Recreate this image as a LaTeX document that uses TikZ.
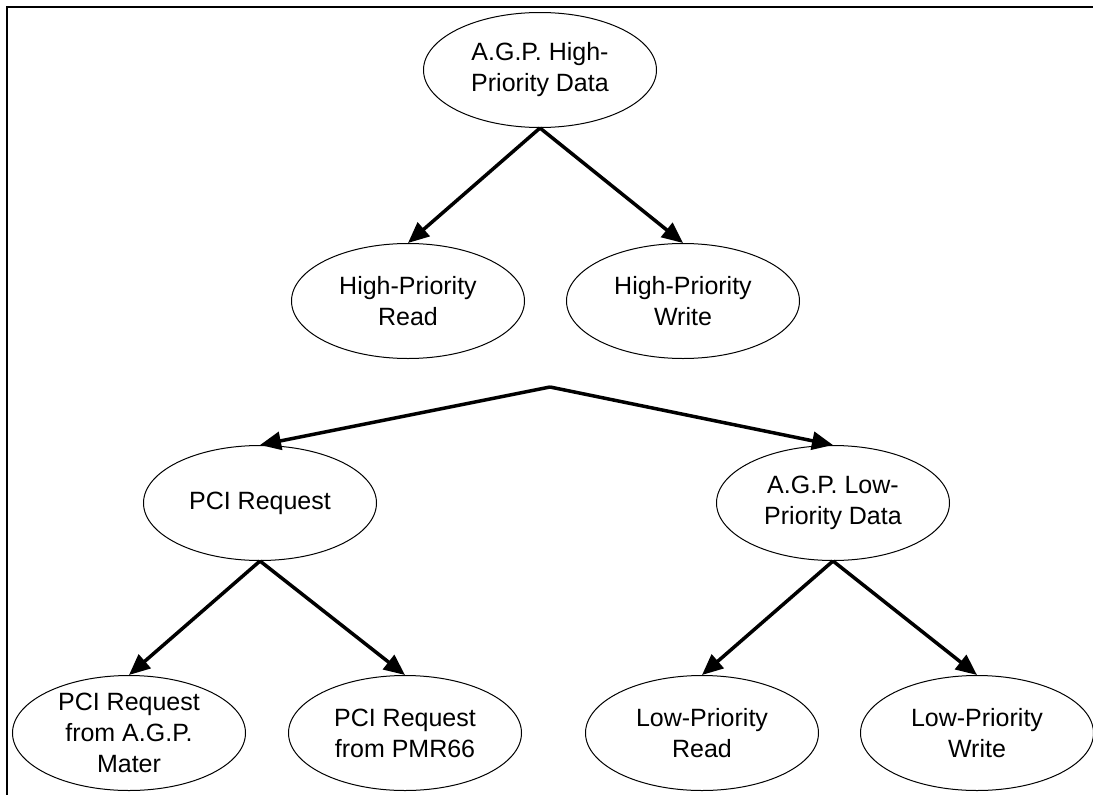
\documentclass[tikz,border=0pt]{standalone}
\usepackage{fontspec}
\setmainfont{Liberation Sans}
\usetikzlibrary{shapes.geometric,arrows.meta}
\begin{document}
\begin{tikzpicture}[x=1pt,y=-1pt,
  oval/.style={ellipse,draw,line width=1pt,minimum width=233pt,minimum height=115pt,inner sep=0pt,align=center,font=\fontsize{25}{31}\selectfont},
  link/.style={line width=3.5pt,-{Triangle[length=21pt,width=18pt]}}]
\useasboundingbox (0,0) rectangle (1093,795);
\draw[line width=2.2pt] (7,795) -- (7,7) -- (1093,7);
\node[oval] (top) at (540,70) {A.G.P. High-\\Priority Data};
\node[oval] (hr) at (408,301) {High-Priority\\Read};
\node[oval] (hw) at (683,301) {High-Priority\\Write};
\coordinate (j) at (550,387);
\node[oval] (pci) at (260,503) {PCI Request};
\node[oval] (lpd) at (833,503) {A.G.P. Low-\\Priority Data};
\node[oval] (pa) at (129,733) {PCI Request\\from A.G.P.\\Mater};
\node[oval] (pm) at (405,733) {PCI Request\\from PMR66};
\node[oval] (lr) at (702,733) {Low-Priority\\Read};
\node[oval] (lw) at (977,733) {Low-Priority\\Write};
\draw[link] (top.south) -- (hr.north);
\draw[link] (top.south) -- (hw.north);
\draw[link] (j) -- (pci.north);
\draw[link] (j) -- (lpd.north);
\draw[link] (pci.south) -- (pa.north);
\draw[link] (pci.south) -- (pm.north);
\draw[link] (lpd.south) -- (lr.north);
\draw[link] (lpd.south) -- (lw.north);
\end{tikzpicture}
\end{document}
